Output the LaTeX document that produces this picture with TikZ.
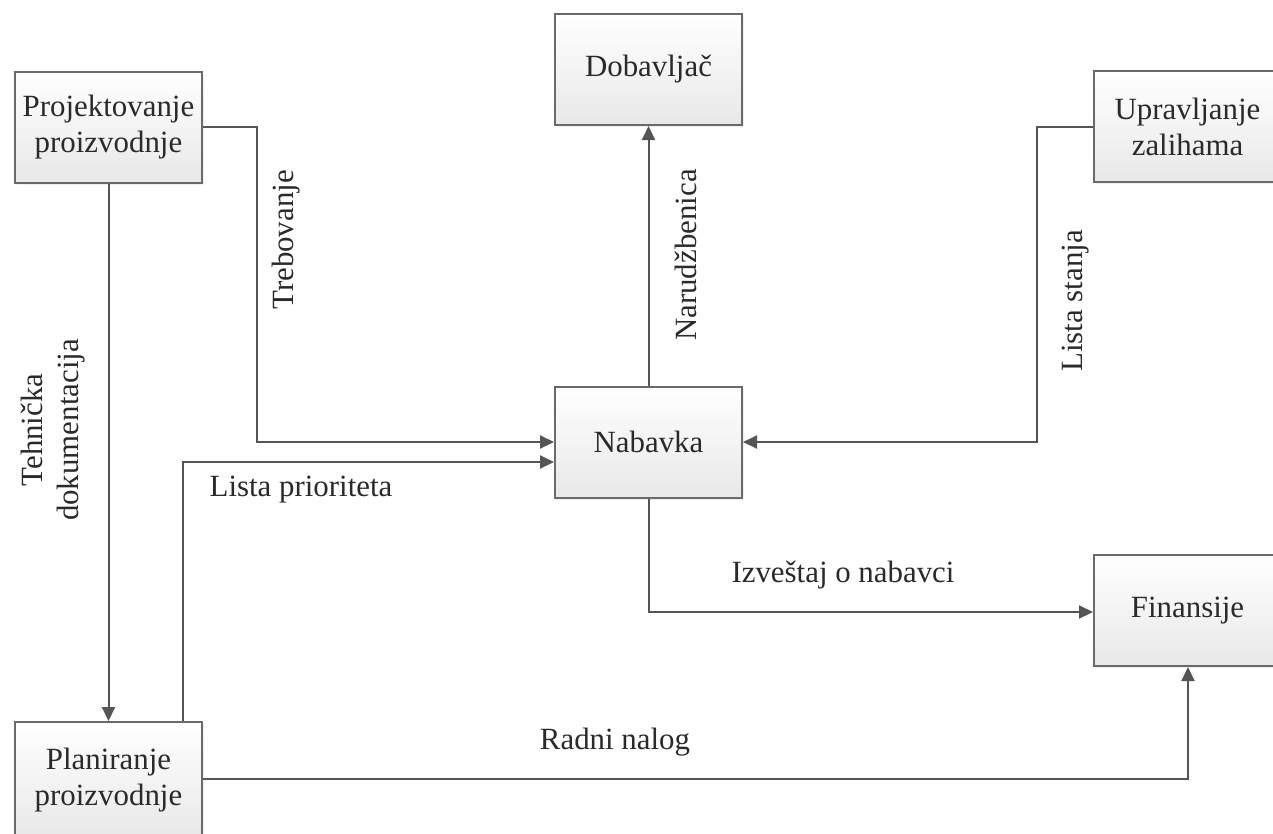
\documentclass[tikz,border=0pt]{standalone}
\usepackage{fontspec}
\setmainfont{Liberation Serif}
\usetikzlibrary{arrows.meta,calc,shadows}
\definecolor{linec}{HTML}{555555}
\definecolor{textc}{HTML}{2A2A2A}
\definecolor{boxb}{HTML}{6A6A6A}
\tikzset{
  box/.style={draw=boxb, line width=1bp, top color=white, bottom color=black!9,
    minimum width=93.5bp, minimum height=55.5bp, align=center, inner sep=0pt,
    text=textc, font=\fontsize{15.5}{18}\selectfont,
    drop shadow={opacity=0.12, shadow xshift=1bp, shadow yshift=-1bp}},
  conn/.style={draw=linec, line width=1bp, -{Triangle[length=7bp,width=6.5bp]}},
  lbl/.style={text=textc, font=\fontsize{15.5}{18}\selectfont, inner sep=0pt, align=center}
}
\begin{document}
\begin{tikzpicture}[x=0.5bp,y=-0.5bp]
\useasboundingbox (0,0) rectangle (1273,833);
\clip (0,0) rectangle (1273,833);
\fill[white] (0,0) rectangle (1273,833);
\node[box] (proj) at (108.5,127) {Projektovanje\\proizvodnje};
\node[box] (dob) at (648.5,69.5) {Dobavljač};
\node[box] (upr) at (1187.5,126.5) {Upravljanje\\zalihama};
\node[box] (nab) at (648.5,442) {Nabavka};
\node[box] (fin) at (1187.5,610.5) {Finansije};
\node[box, minimum height=58bp] (plan) at (108.5,780) {Planiranje\\proizvodnje};

\coordinate (t1) at (257,300);
\coordinate (t2) at (183,462);
\coordinate (u1) at (1037,300);
\coordinate (i1) at (648.5,612);
\coordinate (r1) at (1188,779);

\draw[conn] (proj.east) -| (t1) |- (nab.west);
\draw[conn] (proj.south) -- (plan.north -| proj.south);
\draw[conn] (plan.north -| t2) -- (t2) -- ($(nab.west)+(0,20)$);
\draw[conn] (nab.north) -- (dob.south);
\draw[conn] (upr.west) -| (u1) |- (nab.east);
\draw[conn] (nab.south) -- (i1) -- (i1 -| fin.west);
\draw[conn] (plan.east |- r1) -- (r1) -- (r1 |- fin.south);

\node[lbl, rotate=90] (lt) at (286,240) {Trebovanje};
\node[lbl, rotate=90] (ltd) at (53,430) {Tehnička\\dokumentacija};
\node[lbl, rotate=90] (ln) at (686,255) {Narudžbenica};
\node[lbl, rotate=90] (ls) at (1076,301) {Lista stanja};
\node[lbl] (lp) at (301,490) {Lista prioriteta};
\node[lbl] (li) at (843,575) {Izveštaj o nabavci};
\node[lbl] (lr) at (615,742) {Radni nalog};
\end{tikzpicture}
\end{document}
